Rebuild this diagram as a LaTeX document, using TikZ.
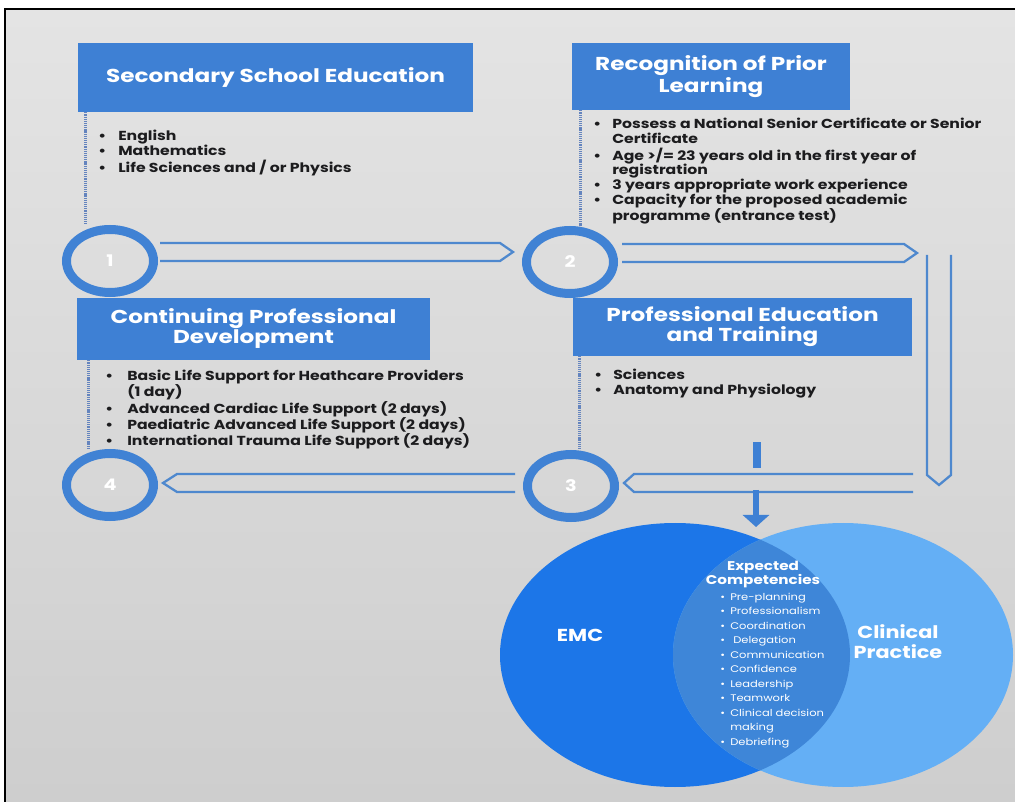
\documentclass[tikz,border=0pt]{standalone}
\usepackage{fontspec}
\setmainfont{Poppins}[FakeStretch=1.2]
\newfontfamily\hdrfont{Poppins}[FakeStretch=1.24]
\usepackage{array}
\usetikzlibrary{shapes.geometric,calc,arrows.meta}

\definecolor{boxblue}{RGB}{62,128,212}
\definecolor{ringblue}{RGB}{64,130,212}
\definecolor{flowblue}{RGB}{78,136,206}
\definecolor{dotblue}{RGB}{100,132,190}
\definecolor{textdark}{RGB}{28,28,30}
\definecolor{bgtop}{RGB}{228,228,228}
\definecolor{bgbot}{RGB}{206,206,206}
\definecolor{emcblue}{RGB}{28,118,232}
\definecolor{clinblue}{RGB}{100,175,245}
\definecolor{overblue}{RGB}{62,134,216}

% hollow chevron arrow: tail, tip, half-width vector, head-back vector
\newcommand\chev[4]{%
  \draw[flow] ($(#1)+#3$) -- ($(#2)+#4+#3$) -- (#2) -- ($(#2)+#4-#3$) -- ($(#1)-#3$);}

\begin{document}
\begin{tikzpicture}[x=0.75pt,y=-0.75pt,
  hdr/.style={rectangle, fill=boxblue, text=white, inner sep=0pt, align=center,
    font=\hdrfont\bfseries\fontsize{14}{15}\selectfont},
  ring/.style={ellipse, draw=ringblue, line width=6.75pt, inner sep=0pt,
    minimum width=65.25pt, minimum height=47.25pt, text=white,
    font=\bfseries\fontsize{12}{12}\selectfont},
  lst/.style={anchor=base west, inner sep=0pt, text=textdark,
    font=\bfseries\fontsize{9.8}{10.95}\selectfont},
  flow/.style={draw=flowblue, line width=1.7pt, line join=miter},
  dotline/.style={draw=dotblue, line width=2pt, dash pattern=on 0.9pt off 0.7pt},
  venntxt/.style={text=white, inner sep=0pt, align=center}]

\useasboundingbox (0,0) rectangle (1015,802);
\fill[white] (0,0) rectangle (1015,802);
\shade[top color=bgtop, bottom color=bgbot] (5,9) rectangle (1015,802);
\draw[black, line width=2pt] (5,802) -- (5,9) -- (1015,9);

% step headers
\node[hdr, minimum width=296.25pt, minimum height=51.75pt] (b1) at (275.5,77.5) {Secondary School Education};
\node[hdr, minimum width=208.5pt, minimum height=50.25pt] (b2) at (711,76.5) {Recognition of Prior\\Learning};
\node[hdr, minimum width=254.25pt, minimum height=43.5pt] (b3) at (742.5,327) {Professional Education\\and Training};
\node[hdr, minimum width=264.75pt, minimum height=46.5pt] (b4) at (253.5,329) {Continuing Professional\\Development};

% numbered rings
\node[ring] (c1) at (110,261) {1};
\node[ring] (c2) at (570,262) {2};
\node[ring] (c3) at (571,486) {3};
\node[ring] (c4) at (110,485) {4};

% dotted leaders from headers to rings
\draw[dotline] ($(b1.south west)+(8,0)$) -- ($(b1.south west |- c1.north)+(8,0)$);
\draw[dotline] ($(b2.south west)+(9,0)$) -- ($(b2.south west |- c2.north)+(9,0)$);
\draw[dotline] ($(b3.south west)+(7,0)$) -- ($(b3.south west |- c3.north)+(7,0)$);
\draw[dotline] ($(b4.south west)+(12,0)$) -- ($(b4.south west |- c4.north)+(12,0)$);

% bullet lists
\node[lst] (l1) at (98,140.5) {\begin{tabular}[t]{@{}p{15pt}@{}l@{}}
\textbullet & English\\
\textbullet & Mathematics\\
\textbullet & Life Sciences and / or Physics
\end{tabular}};
\node[lst] (l2) at (593,128.5) {\begin{tabular}[t]{@{}p{14.25pt}@{}l@{}}
\textbullet & Possess a National Senior Certificate or Senior\\
 & Certificate\\
\textbullet & Age >/= 23 years old in the first year of\\
 & registration\\
\textbullet & 3 years appropriate work experience\\
\textbullet & Capacity for the proposed academic\\
 & programme (entrance test)
\end{tabular}};
\node[lst] (l3) at (594,379.5) {\begin{tabular}[t]{@{}p{14.25pt}@{}l@{}}
\textbullet & Sciences\\
\textbullet & Anatomy and Physiology
\end{tabular}};
\node[lst] (l4) at (105,380.5) {\begin{tabular}[t]{@{}p{16.5pt}@{}l@{}}
\textbullet & Basic Life Support for Heathcare Providers\\
 & (1 day)\\
\textbullet & Advanced Cardiac Life Support (2 days)\\
\textbullet & Paediatric Advanced Life Support (2 days)\\
\textbullet & International Trauma Life Support (2 days)
\end{tabular}};

% flow arrows between the steps
\coordinate (t1) at (160,252);  \coordinate (h1) at (513,252);
\coordinate (t2) at (622,253);  \coordinate (h2) at (917,253);
\coordinate (t3) at (939,255);  \coordinate (h3) at (939,485);
\coordinate (t4) at (913,483);  \coordinate (h4) at (624,483);
\coordinate (t5) at (515,483);  \coordinate (h5) at (163,483);
\chev{t1}{h1}{(0,9)}{(-13,0)}
\chev{t2}{h2}{(0,9)}{(-13,0)}
\chev{t3}{h3}{(12,0)}{(0,-10)}
\chev{t4}{h4}{(0,9)}{(10,0)}
\chev{t5}{h5}{(0,9)}{(14,0)}

% link from training down to the competencies
\fill[boxblue] (753,442) rectangle (761,468);
\coordinate (d1) at (756,490);
\coordinate (d2) at (756,527);
\draw[boxblue, line width=4.5pt, -{Triangle[width=19.5pt,length=9pt]}] (d1) -- (d2);

% Venn diagram
\fill[emcblue] (675,655) ellipse [x radius=175, y radius=132];
\fill[clinblue] (843,655) ellipse [x radius=170, y radius=132];
\begin{scope}
  \clip (675,655) ellipse [x radius=175, y radius=132];
  \fill[overblue] (843,655) ellipse [x radius=170, y radius=132];
\end{scope}

\node[venntxt, font=\bfseries\fontsize{13}{15}\selectfont] (emc) at (580,635) {EMC};
\node[venntxt, font=\bfseries\fontsize{13}{15}\selectfont] (cp) at (898,642) {Clinical\\Practice};
\node[venntxt, font=\bfseries\fontsize{9.5}{10.5}\selectfont] (ec) at (763,574) {Expected\\Competencies};
\node[anchor=base west, inner sep=0pt, text=white, font=\fontsize{7.2}{10.9}\selectfont] (cl) at (720,600)
{\begin{tabular}[t]{@{}p{7.5pt}@{}l@{}}
\textbullet & Pre-planning\\
\textbullet & Professionalism\\
\textbullet & Coordination\\
\textbullet & \ Delegation\\
\textbullet & Communication\\
\textbullet & Confidence\\
\textbullet & Leadership\\
\textbullet & Teamwork\\
\textbullet & Clinical decision\\
 & making\\
\textbullet & Debriefing
\end{tabular}};

\end{tikzpicture}
\end{document}
